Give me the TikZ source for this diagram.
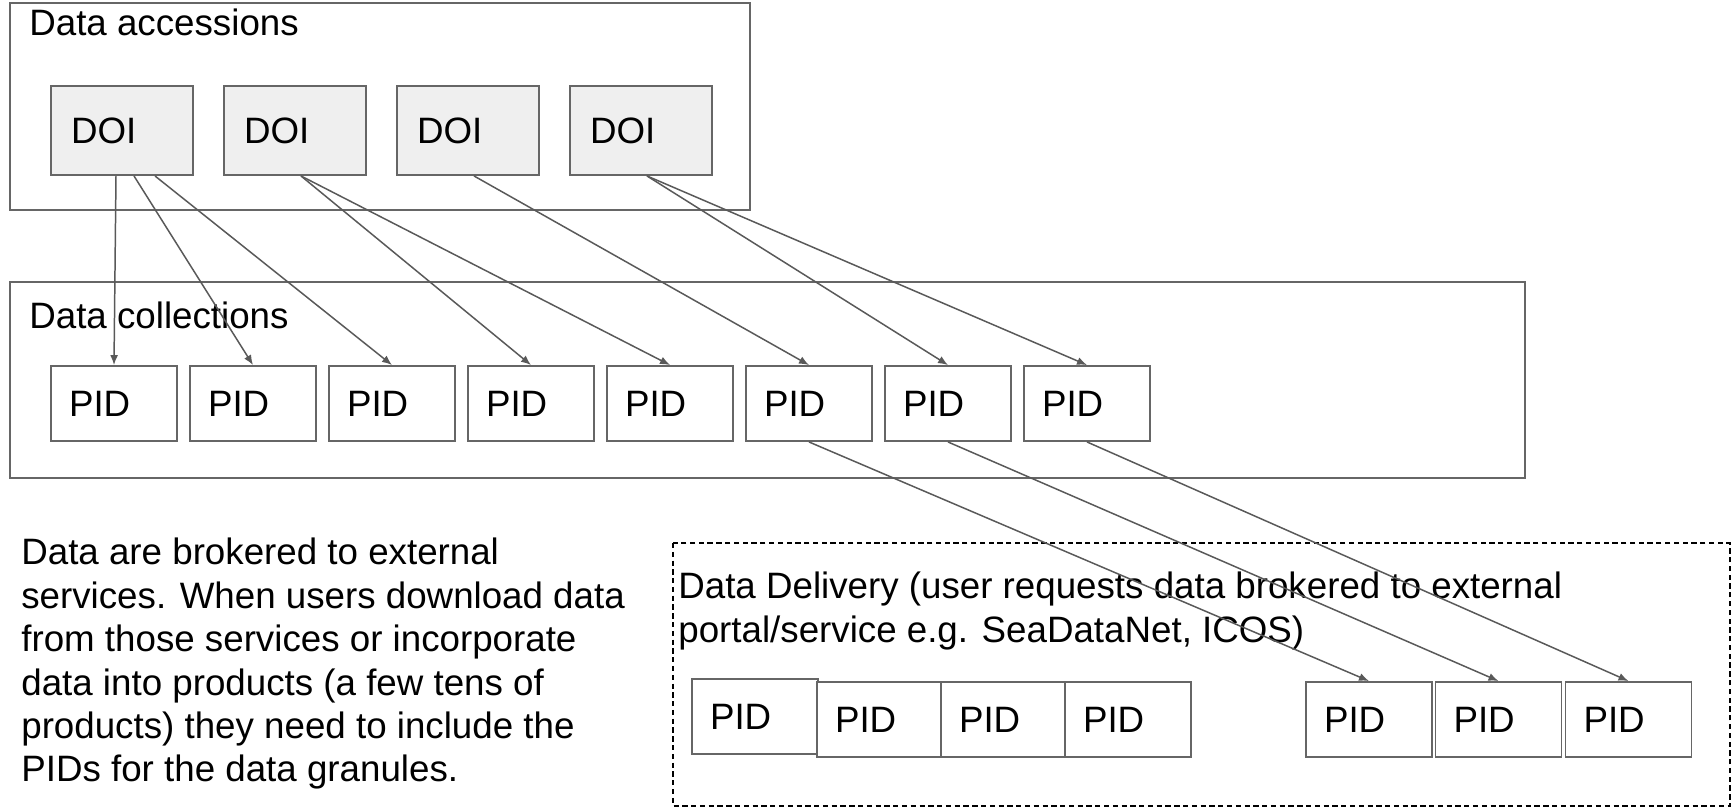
\documentclass[tikz,border=0pt]{standalone}
\usepackage{fontspec}
\setmainfont{Liberation Sans}
\usetikzlibrary{arrows.meta}
\definecolor{edgegray}{HTML}{666666}
\definecolor{arrowgray}{HTML}{595959}
\definecolor{doifill}{HTML}{EFEFEF}
\newcommand{\bigtxt}{\fontsize{20.9}{24.7}\selectfont}

\begin{document}
\begin{tikzpicture}[x=0.02cm, y=-0.02cm,
    txt/.style={font=\bigtxt, inner sep=0pt},
    frame/.style={draw=edgegray, line width=1.1pt},
    doibox/.style={draw=edgegray, line width=1.1pt, fill=doifill, font=\bigtxt,
        align=left, text width=2.04cm, inner xsep=0.4cm, minimum height=1.78cm},
    pidbox/.style={draw=edgegray, line width=1.1pt, fill=white, font=\bigtxt,
        align=left, text width=1.8cm, inner xsep=0.36cm, minimum height=1.5cm},
    link/.style={draw=arrowgray, line width=0.85pt, -{Latex[length=2mm, width=1.6mm]}}]

        \useasboundingbox (0,0) rectangle (1732,808);

        % Data accessions
        \draw[frame] (10,3) rectangle (750,210);
        \node[txt, anchor=west] (acclbl) at (29,22) {Data accessions};
        \foreach \i/\x in {1/122, 2/295, 3/468, 4/641} {
            \node[doibox] (d\i) at (\x,130.5) {DOI};
        }

        % Data collections
        \draw[frame] (10,282) rectangle (1525,478);
        \node[txt, anchor=west] (collbl) at (29,315) {Data collections};
        \foreach \i in {1,...,8} {
            \node[pidbox] (c\i) at ({114+139*(\i-1)},403.5) {PID};
        }

        % Data delivery
        \draw[black, line width=1pt, dash pattern=on 3pt off 2pt] (673,543) rectangle (1730,806);
        \node[txt, anchor=north west, align=left] (dellbl) at (678,572)
            {Data Delivery (user requests data brokered to external\\portal/service e.g. SeaDataNet, ICOS)};
        \node[pidbox] (p1) at (755,716.5) {PID};
        \foreach \i/\x in {2/880, 3/1004, 4/1128, 5/1369, 6/1498.5, 7/1628.5} {
            \node[pidbox] (p\i) at (\x,719.5) {PID};
        }

        % Note
        \node[txt, anchor=north west, align=left] (note) at (21,538)
            {Data are brokered to external\\services. When users download data\\from those services or incorporate\\data into products (a few tens of\\products) they need to include the\\PIDs for the data granules.};

        % Arrows
        \foreach \dx/\t in {-0.12/c1, 0.24/c2, 0.66/c3} {
            \draw[link] ([xshift=\dx cm]d1.south) -- (\t.north);
        }
        \foreach \s/\t in {d2/c4, d2/c5, d3/c6, d4/c7, d4/c8} {
            \draw[link] ([xshift=0.12cm]\s.south) -- (\t.north);
        }
        \foreach \s/\t in {c6/p5, c7/p6, c8/p7} {
            \draw[link] (\s.south) -- (\t.north);
        }
    \end{tikzpicture}
\end{document}
